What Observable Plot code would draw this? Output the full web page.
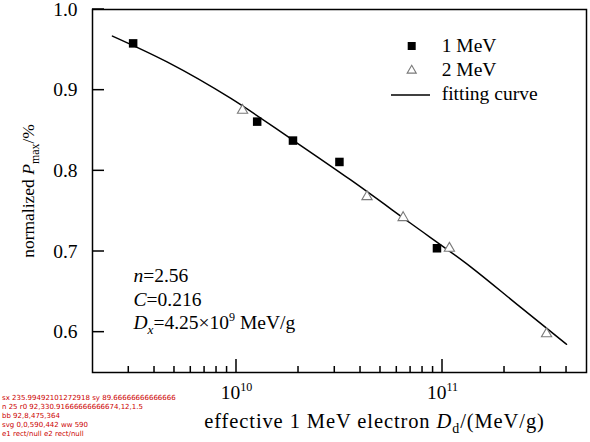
<!DOCTYPE html>
<html><head><meta charset="utf-8">
<script src="https://cdn.jsdelivr.net/npm/d3@7"></script>
<script src="https://cdn.jsdelivr.net/npm/@observablehq/plot@0.6"></script>
<style>body{margin:0;background:#fff} svg{display:block}</style>
</head><body><div id="chart"></div>
<script>
// ---- data ----
const dose1MeV = [3.15e9, 1.26e10, 1.88e10, 3.16e10, 9.4e10];
const pmax1MeV = [0.958, 0.861, 0.8375, 0.811, 0.704];
const dose2MeV = [1.07e10, 4.3e10, 6.44e10, 1.08e11, 3.2e11];
const pmax2MeV = [0.875, 0.768, 0.742, 0.704, 0.598];
const fitDose = [2.5e9, 4.6e9, 9.35e9, 1.83e10, 3.57e10, 7.0e10, 1.37e11, 2.39e11, 4.0e11];
const fitPmax = [0.967, 0.935, 0.890, 0.840, 0.789, 0.735, 0.681, 0.631, 0.585];
const yTicks = [0.6, 0.7, 0.8, 0.9, 1.0];
const xMajorTicks = [1e10, 1e11];
const xMinorTicks = [3e9, 4e9, 5e9, 6e9, 7e9, 8e9, 9e9,
  2e10, 3e10, 4e10, 5e10, 6e10, 7e10, 8e10, 9e10,
  2e11, 3e11, 4e11];
const legendLabels = ["1 MeV", "2 MeV", "fitting curve"];
const xTitle = "effective 1 MeV electron Dd/(MeV/g)";
const yTitle = "normalized Pmax/%";
const notes = ["n=2.56", "C=0.216", "Dx=4.25×109 MeV/g"];

const pts1 = dose1MeV.map((d, i) => ({d, p: pmax1MeV[i]}));
const pts2 = dose2MeV.map((d, i) => ({d, p: pmax2MeV[i]}));
const fit = fitDose.map((d, i) => ({d, p: fitPmax[i]}));

const FONT = "'Liberation Serif', 'Times New Roman', serif";
const FS = 19.5;
const W = 590, H = 442, ML = 92, MR = 4, MT = 9, MB = 70;
const X_DOMAIN = [2e9, 5e11], Y_DOMAIN = [0.55, 1.0];

const plot = Plot.plot({
  width: W, height: H,
  marginLeft: ML, marginRight: MR, marginTop: MT, marginBottom: MB,
  style: {fontFamily: FONT, fontSize: FS + "px", color: "black", background: "white"},
  x: {type: "log", domain: X_DOMAIN},
  y: {domain: Y_DOMAIN},
  marks: [
    Plot.frame({stroke: "black", fill: "none", strokeWidth: 1.5}),
    Plot.axisY({ticks: yTicks, tickSize: 0, tickPadding: 15, tickFormat: d3.format(".1f"), label: null}),
    Plot.axisX({ticks: xMajorTicks, tickSize: 0, tickPadding: 13, tickFormat: d => "10^" + Math.round(Math.log10(d)), label: null}),
    Plot.line(fit, {x: "d", y: "p", curve: "monotone-x", stroke: "black", strokeWidth: 1.5}),
    Plot.dot(pts1, {x: "d", y: "p", symbol: "square", r: 4.8, fill: "black", stroke: "none"}),
    Plot.dot(pts2, {x: "d", y: "p", symbol: "triangle", r: 3.8, fill: "white", stroke: "#7a7a7a", strokeWidth: 1.1}),
    Plot.text([xTitle], {text: d => d, frameAnchor: "bottom", textAnchor: "middle", dx: 35, dy: 55}),
    Plot.text([yTitle], {text: d => d, frameAnchor: "left", textAnchor: "middle", dx: -64, rotate: -90, fontSize: 17.5}),
    Plot.text([notes[0]], {text: d => d, frameAnchor: "top-left", textAnchor: "start", dx: 41, dy: 259}),
    Plot.text([notes[1]], {text: d => d, frameAnchor: "top-left", textAnchor: "start", dx: 41, dy: 282.7}),
    Plot.text([notes[2]], {text: d => d, frameAnchor: "top-left", textAnchor: "start", dx: 41, dy: 306})
  ]
});
document.getElementById("chart").appendChild(plot);

// ---- rich text (italic, sub/superscripts) ----
const NS = "http://www.w3.org/2000/svg";
function rich(el, parts) {
  el.textContent = "";
  let shift = 0;
  for (const [t, s = ""] of parts) {
    const ts = document.createElementNS(NS, "tspan");
    ts.textContent = t;
    let target = 0;
    if (s.includes("i")) ts.setAttribute("font-style", "italic");
    if (s.includes("b")) { ts.setAttribute("font-size", "0.68em"); target = 5; }
    if (s.includes("p")) { ts.setAttribute("font-size", "0.62em"); target = -8; }
    if (target !== shift) { ts.setAttribute("dy", target - shift); shift = target; }
    el.appendChild(ts);
  }
}
for (const el of plot.querySelectorAll("text")) {
  const s = el.textContent;
  const m = /^10\^(\d+)$/.exec(s);
  if (m) rich(el, [["10"], [m[1], "p"]]);
  else if (s === xTitle) {
    el.setAttribute("font-size", 20.5);
    el.setAttribute("letter-spacing", 0.9);
    rich(el, [["effective 1 MeV electron "], ["D", "i"], ["d", "b"], ["/(MeV/g)"]]);
  }
  else if (s === yTitle) rich(el, [["normalized "], ["P", "i"], ["max", "b"], ["/%"]]);
  else if (s === notes[0]) rich(el, [["n", "i"], ["=2.56"]]);
  else if (s === notes[1]) rich(el, [["C", "i"], ["=0.216"]]);
  else if (s === notes[2]) rich(el, [["D", "i"], ["x", "ib"], ["=4.25×10"], ["9", "p"], [" MeV/g"]]);
}

const svg = d3.select(plot);

// ---- legend ----
const lg = svg.append("g").attr("font-family", FONT).attr("font-size", FS).attr("text-anchor", "start");
lg.append("path").attr("transform", "translate(411.7,46)")
  .attr("d", d3.symbol(d3.symbolSquare, 64)()).attr("fill", "black");
lg.append("path").attr("transform", "translate(411.7,70.5)")
  .attr("d", d3.symbol(d3.symbolTriangle, 36)()).attr("fill", "white").attr("stroke", "#7a7a7a").attr("stroke-width", 1.1);
lg.append("line").attr("x1", 391).attr("x2", 430).attr("y1", 95).attr("y2", 95)
  .attr("stroke", "black").attr("stroke-width", 1.5);
[46, 70, 94].forEach((y, i) => {
  lg.append("text").attr("x", 441.7).attr("y", y).attr("dy", "0.32em").attr("fill", "black").text(legendLabels[i]);
});

// ---- inward ticks (filled rects), placed with the chart's scales ----
const dbg = [];
try {
  const bottom = H - MB;
  const fx = d3.scaleLog(X_DOMAIN, [ML, W - MR]);
  const fy = d3.scaleLinear(Y_DOMAIN, [bottom, MT]);
  let px = fx, py = fy;
  try {
    const sx = plot.scale("x"), sy = plot.scale("y");
    if (sx && sy && typeof sx.apply === "function" && typeof sy.apply === "function"
        && isFinite(sx.apply(1e10)) && isFinite(sy.apply(0.9))) {
      px = v => sx.apply(v); py = v => sy.apply(v);
    }
    dbg.push("sx " + (sx && sx.apply ? sx.apply(1e10) : "na") + " sy " + (sy && sy.apply ? sy.apply(0.9) : "na"));
  } catch (e) { dbg.push("scaleErr " + e); }
  const tk = svg.append("g").attr("fill", "black").attr("stroke", "none");
  yTicks.forEach(v => {
    const y = py(v);
    tk.append("rect").attr("x", ML).attr("y", y - 0.75).attr("width", 12).attr("height", 1.5);
  });
  xMajorTicks.forEach(v => {
    const x = px(v);
    tk.append("rect").attr("x", x - 0.75).attr("y", bottom - 13).attr("width", 1.5).attr("height", 13);
  });
  xMinorTicks.forEach(v => {
    const x = px(v);
    tk.append("rect").attr("x", x - 0.75).attr("y", bottom - 6).attr("width", 1.5).attr("height", 6);
  });
  const r0 = tk.select("rect").node();
  dbg.push("n " + tk.selectAll("rect").size() + " r0 " + ["x","y","width","height"].map(a => r0.getAttribute(a)).join(","));
  const bb = tk.node().getBBox();
  dbg.push("bb " + [bb.x, bb.y, bb.width, bb.height].map(v => Math.round(v)).join(","));
  const br = plot.getBoundingClientRect();
  dbg.push("svg " + [br.x, br.y, br.width, br.height].map(v => Math.round(v)).join(",") + " ww " + window.innerWidth);
  const e1 = document.elementFromPoint(ML + 6, py(0.9));
  const e2 = document.elementFromPoint(px(1e10), bottom - 6);
  const desc = e => e ? e.tagName + "/" + (e.parentNode && e.parentNode.getAttribute ? e.parentNode.getAttribute("aria-label") : "") : "null";
  dbg.push("e1 " + desc(e1) + " e2 " + desc(e2));
} catch (e) { dbg.push("err " + e); }
const dg = svg.append("g").attr("font-family", "DejaVu Sans").attr("font-size", 7).attr("fill", "#c00").attr("text-anchor", "start");
dbg.forEach((t, i) => dg.append("text").attr("x", 2).attr("y", 400 + i * 9).text(t));
</script>
</body></html>
